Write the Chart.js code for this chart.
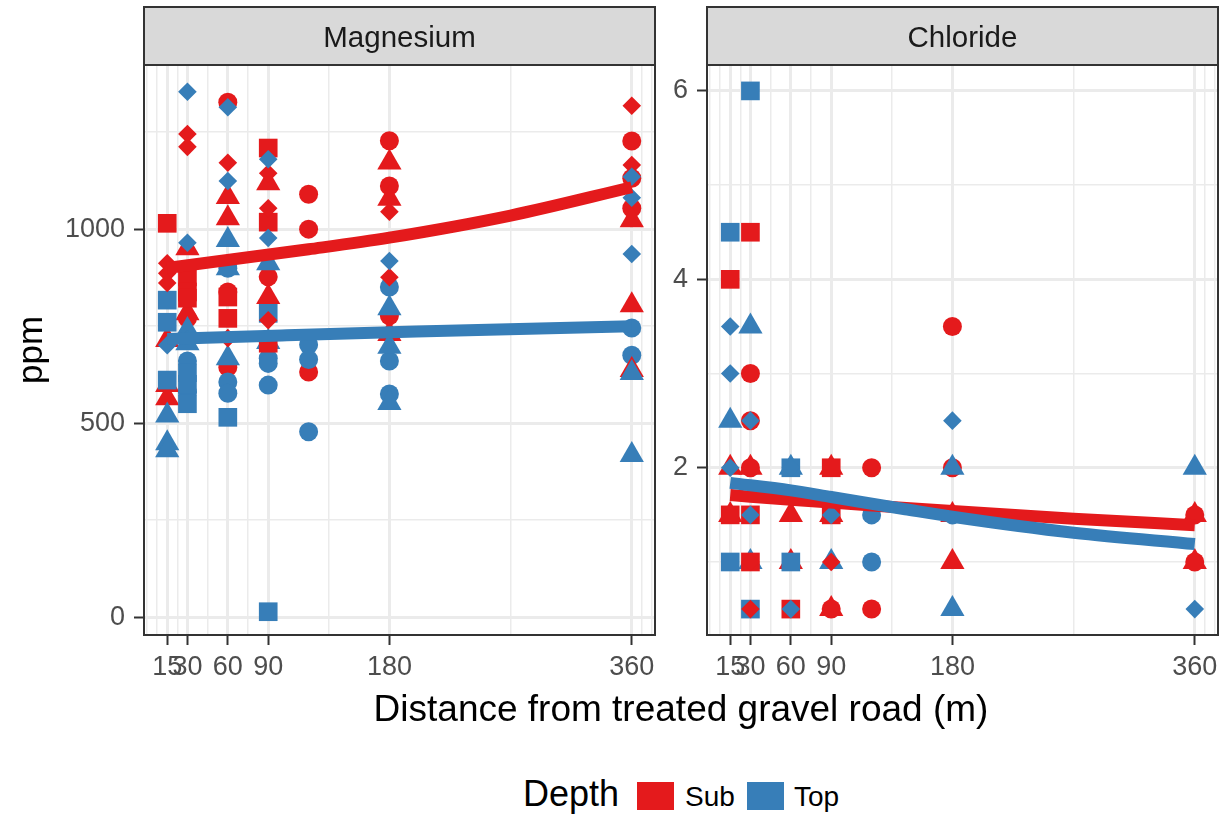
<!DOCTYPE html>
<html>
<head>
<meta charset="utf-8">
<script src="https://cdn.jsdelivr.net/npm/chart.js@4.4.1/dist/chart.umd.min.js"></script>
<style>
  body { margin: 0; background: #fff; width: 1232px; height: 818px; position: relative; overflow: hidden;
         font-family: "Liberation Sans", Arial, Helvetica, sans-serif; }
  canvas { position: absolute; top: 0; }
  #left { left: 0; }
  #right { left: 660px; }
  #xtitle { position: absolute; left: 144px; width: 1074px; top: 690px; text-align: center;
            font-size: 37px; line-height: 37px; color: #000; white-space: nowrap; }
  .lg { position: absolute; color: #000; white-space: nowrap; }
  .key { position: absolute; width: 37px; height: 28px; top: 782px; }
</style>
</head>
<body>
<canvas id="left" width="660" height="700"></canvas>
<canvas id="right" width="572" height="700"></canvas>
<div id="xtitle">Distance from treated gravel road (m)</div>
<div class="lg" style="left:523px; top:776px; font-size:36px; line-height:36px;">Depth</div>
<div class="key" style="left:637px; background:#E41A1C;"></div>
<div class="lg" style="left:685px; top:783px; font-size:28px; line-height:28px;">Sub</div>
<div class="key" style="left:747px; background:#377EB8;"></div>
<div class="lg" style="left:794px; top:783px; font-size:28px; line-height:28px;">Top</div>

<script>
const RED = '#E41A1C';
const BLUE = '#377EB8';

// distances sampled (m)
const distances = [15, 30, 60, 90, 120, 180, 360];
const xTickVals = [15, 30, 60, 90, 180, 360];
const xGridVals = [0, 7.5, 15, 22.5, 30, 45, 60, 75, 90, 135, 180, 270, 360, 367.5, 375];

// Magnesium (ppm), one list per distance; shapes: c circle, t triangle, s square, d diamond
const mgSub = [
  [1015, 912, 886, 861, 714, 598, 564],
  [1245, 1212, 951, 877, 838, 822, 783, 770],
  [1327, 1171, 1083, 1028, 838, 825, 770, 719, 644],
  [1209, 1144, 1118, 1054, 1018, 877, 825, 765, 706],
  [1090, 1000, 632],
  [1228, 1172, 1111, 1078, 1045, 876, 777, 730],
  [1318, 1227, 1165, 1131, 1054, 1023, 804, 637]
];
const mgSubShape = ['sdddttt', 'ddtssstc', 'cdttcssdc', 'sdtdsctds', 'ccc', 'ctctddct', 'dcdccttt'];
const mgTop = [
  [817, 760, 701, 611, 520, 448, 430],
  [1354, 965, 740, 706, 660, 630, 600, 580, 550],
  [1314, 1124, 972, 899, 899, 667, 606, 577, 515],
  [1180, 977, 912, 783, 709, 667, 654, 598, 14],
  [702, 664, 478],
  [918, 851, 796, 697, 660, 575, 552],
  [1135, 1081, 936, 745, 675, 629, 418]
];
const mgTopShape = ['ssdsttt', 'ddttcsscs', 'ddttctccs', 'ddtstcccs', 'ccc', 'dcttcct', 'dddcctt'];

// Chloride (ppm)
const clSub = [
  [4, 2, 1.5, 1.5],
  [4.5, 3, 2.5, 2, 2, 1.5, 1, 1, 0.5],
  [1.5, 1, 0.5],
  [2, 2, 1.5, 1.5, 1, 0.5, 0.5],
  [2, 0.5],
  [3.5, 2, 1.5, 1],
  [1.5, 1.5, 1, 1]
];
const clSubShape = ['stst', 'scctcssdd', 'tts', 'ststdct', 'cc', 'cctt', 'ctct'];
const clTop = [
  [4.5, 3.5, 3, 2.5, 2, 1],
  [6, 3.5, 2.5, 1.5, 1, 0.5],
  [2, 2, 2, 1, 0.5],
  [1.5, 1],
  [1.5, 1],
  [2.5, 2, 1.5, 0.5],
  [2, 0.5]
];
const clTopShape = ['sddtds', 'stddts', 'tsdsd', 'dt', 'cc', 'dtct', 'td'];

// fitted trend lines
const mgSubFitX = [15, 120, 180, 270, 360];
const mgSubFitY = [900, 948, 978, 1035, 1108];
const mgTopFitX = [15, 100, 200, 360];
const mgTopFitY = [717, 726, 736, 750];
const clSubFitX = [15, 60, 120, 180, 270, 360];
const clSubFitY = [1.71, 1.66, 1.60, 1.54, 1.46, 1.39];
const clTopFitX = [15, 60, 90, 145, 180, 270, 360];
const clTopFitY = [1.84, 1.76, 1.69, 1.56, 1.48, 1.31, 1.19];

const FONT = '"Liberation Sans", Arial, Helvetica, sans-serif';
Chart.defaults.font.family = FONT;

const pointStyles = { c: 'circle', t: 'triangle', s: 'rect', d: 'rectRot' };
const pointSizes = { c: 9.5, t: 14, s: 13.2, d: 9.3 };
const drawRank = { c: 0, t: 1, s: 2, d: 3 };

function buildPoints(sub, subShape, top, topShape) {
  const pts = [];
  distances.forEach((d, i) => {
    sub[i].forEach((v, j) => pts.push({ x: d, y: v, s: subShape[i][j], c: RED }));
  });
  distances.forEach((d, i) => {
    top[i].forEach((v, j) => pts.push({ x: d, y: v, s: topShape[i][j], c: BLUE }));
  });
  pts.sort((a, b) => drawRank[a.s] - drawRank[b.s]);
  return pts;
}

function fitLine(xs, ys, color, order) {
  return {
    type: 'line',
    data: xs.map((x, i) => ({ x: x, y: ys[i] })),
    borderColor: color,
    borderWidth: 12,
    borderCapStyle: 'butt',
    pointRadius: 0,
    cubicInterpolationMode: 'monotone',
    fill: false,
    order: order
  };
}

// fixes the plot panel to an exact pixel box, then draws strip + border
const stripPlugin = {
  id: 'strip',
  afterLayout(chart, args, opts) {
    const a = chart.chartArea;
    a.left = opts.box[0]; a.right = opts.box[1];
    a.width = a.right - a.left;
    chart.scales.x.left = a.left; chart.scales.x.right = a.right; chart.scales.x.width = a.width;
    chart.scales.x.configure();
  },
  afterDraw(chart, args, opts) {
    const { ctx, chartArea: a } = chart;
    ctx.save();
    ctx.fillStyle = '#D9D9D9';
    ctx.fillRect(a.left, 7, a.right - a.left, a.top - 7);
    ctx.strokeStyle = '#333333';
    ctx.lineWidth = 2;
    ctx.strokeRect(a.left, 7, a.right - a.left, a.top - 7);
    ctx.strokeRect(a.left, a.top, a.right - a.left, a.bottom - a.top);
    ctx.fillStyle = '#1A1A1A';
    ctx.font = '29.5px ' + FONT;
    ctx.textAlign = 'center';
    ctx.textBaseline = 'alphabetic';
    ctx.fillText(opts.text, (a.left + a.right) / 2, 47);
    ctx.restore();
  }
};

function makePanel(id, cfg) {
  const pts = buildPoints(cfg.sub, cfg.subShape, cfg.top, cfg.topShape);
  const isMajorX = v => xTickVals.includes(v);
  const isMajorY = v => cfg.yTickVals.includes(v);
  return new Chart(document.getElementById(id), {
    type: 'scatter',
    data: {
      datasets: [
        fitLine(cfg.topFitX, cfg.topFitY, BLUE, 0),
        fitLine(cfg.subFitX, cfg.subFitY, RED, 1),
        {
          data: pts.map(p => ({ x: p.x, y: p.y })),
          pointStyle: pts.map(p => pointStyles[p.s]),
          pointRadius: pts.map(p => pointSizes[p.s]),
          pointBackgroundColor: pts.map(p => p.c),
          pointBorderWidth: 0,
          showLine: false,
          order: 2
        }
      ]
    },
    options: {
      responsive: false,
      animation: false,
      events: [],
      layout: { padding: { top: 65, right: cfg.padRight, left: 0, bottom: 0 } },
      plugins: {
        legend: { display: false },
        tooltip: { enabled: false },
        strip: { text: cfg.title, box: cfg.box }
      },
      scales: {
        x: {
          type: 'linear',
          min: -2.25,
          max: 377.25,
          afterBuildTicks: s => { s.ticks = xGridVals.map(v => ({ value: v })); },
          afterFit: s => { s.height = 65; s.paddingLeft = 0; s.paddingRight = 0; },
          border: { display: false },
          grid: {
            color: '#EBEBEB',
            lineWidth: c => isMajorX(c.tick.value) ? 3 : 1.5,
            tickLength: 10,
            tickWidth: 2,
            tickColor: c => isMajorX(c.tick.value) ? '#333333' : 'rgba(0,0,0,0)'
          },
          ticks: {
            autoSkip: false,
            maxRotation: 0,
            minRotation: 0,
            padding: 6,
            color: '#4D4D4D',
            font: { size: 27 },
            callback: v => isMajorX(v) ? String(v) : ''
          }
        },
        y: {
          type: 'linear',
          min: cfg.yMin,
          max: cfg.yMax,
          afterBuildTicks: s => { s.ticks = cfg.yGridVals.map(v => ({ value: v })); },
          afterFit: s => { s.width = cfg.yWidth; s.paddingTop = 0; s.paddingBottom = 0; },
          border: { display: false },
          grid: {
            color: '#EBEBEB',
            lineWidth: c => isMajorY(c.tick.value) ? 3 : 1.5,
            tickLength: 10,
            tickWidth: 2,
            tickColor: c => isMajorY(c.tick.value) ? '#333333' : 'rgba(0,0,0,0)'
          },
          ticks: {
            padding: 9,
            color: '#4D4D4D',
            font: { size: 27 },
            callback: v => isMajorY(v) ? String(v) : ''
          },
          title: {
            display: !!cfg.yTitle,
            text: cfg.yTitle || '',
            color: '#000',
            font: { size: 35 },
            padding: { top: 11, bottom: 0 }
          }
        }
      }
    },
    plugins: [stripPlugin]
  });
}

makePanel('left', {
  title: 'Magnesium',
  sub: mgSub, subShape: mgSubShape, top: mgTop, topShape: mgTopShape,
  subFitX: mgSubFitX, subFitY: mgSubFitY, topFitX: mgTopFitX, topFitY: mgTopFitY,
  yMin: -46, yMax: 1423,
  yTickVals: [0, 500, 1000],
  yGridVals: [0, 250, 500, 750, 1000, 1250],
  yWidth: 144, padRight: 5, box: [144, 655],
  yTitle: 'ppm'
});

makePanel('right', {
  title: 'Chloride',
  sub: clSub, subShape: clSubShape, top: clTop, topShape: clTopShape,
  subFitX: clSubFitX, subFitY: clSubFitY, topFitX: clTopFitX, topFitY: clTopFitY,
  yMin: 0.225, yMax: 6.275,
  yTickVals: [2, 4, 6],
  yGridVals: [1, 2, 3, 4, 5, 6],
  yWidth: 47, padRight: 14, box: [47, 558]
});
</script>
</body>
</html>
